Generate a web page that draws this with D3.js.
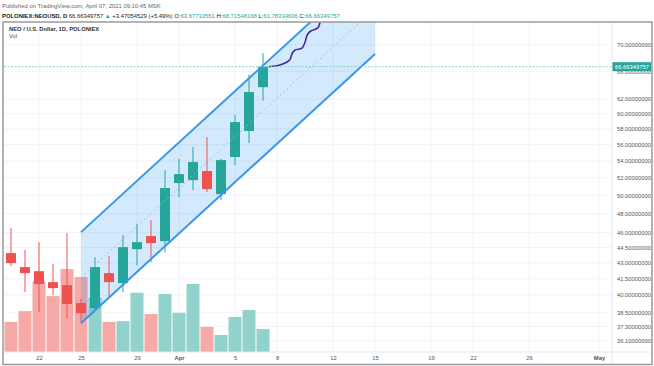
<!DOCTYPE html>
<html>
<head>
<meta charset="utf-8">
<script src="https://cdn.jsdelivr.net/npm/d3@7"></script>
<style>
  html, body { margin: 0; padding: 0; background: #fff; }
  svg { display: block; font-family: "Liberation Sans", Arial, sans-serif; }
</style>
</head>
<body>
<div id="chart"></div>
<script>
// NEO / USD daily candles (Poloniex)
const dates  = ["2021-03-20","2021-03-21","2021-03-22","2021-03-23","2021-03-24","2021-03-25","2021-03-26",
                "2021-03-27","2021-03-28","2021-03-29","2021-03-30","2021-03-31","2021-04-01","2021-04-02",
                "2021-04-03","2021-04-04","2021-04-05","2021-04-06","2021-04-07"];
const opens  = [43.94, 42.59, 42.20, 41.18, 40.91, 39.29, 38.85, 42.02, 41.09, 44.33, 45.65, 45.13, 51.39, 51.73, 52.79, 50.14, 54.47, 57.73, 63.67710551];
const highs  = [46.47, 44.24, 45.03, 42.87, 45.95, 39.70, 43.55, 43.65, 45.75, 46.90, 47.31, 52.90, 54.22, 55.70, 56.96, 54.22, 59.84, 65.50, 68.71548168];
const lows   = [42.68, 40.27, 38.51, 40.00, 37.99, 37.66, 38.68, 39.82, 40.27, 42.77, 43.06, 44.00, 49.81, 50.59, 50.37, 49.47, 53.50, 56.20, 61.78334606];
const closes = [42.97, 42.02, 41.00, 40.63, 39.21, 38.42, 42.59, 41.18, 44.53, 45.03, 44.93, 50.82, 52.43, 53.86, 50.70, 54.10, 58.90, 62.99, 66.66349757];
const volumes = [72, 98, 170, 134, 199, 180, 130, 72, 74, 142, 91, 139, 94, 163, 60, 41, 84, 101, 55];

// parallel channel drawing
const channelDates = ["2021-03-25", "2021-04-15"];
const channelUpper = [46.05, 84.06];
const channelLower = [37.57, 68.58];

// hand drawn projection path: days after Apr 7, price
const pathDays   = [0.4, 1.2, 1.9, 2.1, 2.3, 2.8, 3.0, 3.15, 3.4, 3.9, 4.1, 4.25];
const pathPrices = [66.66, 66.9, 67.7, 68.7, 69.2, 69.5, 70.4, 71.6, 72.2, 72.7, 73.7, 75.0];

const priceTicks = [36.1, 37.3, 38.5, 40, 41.5, 43, 44.5, 46, 48, 50, 52, 54, 56, 58, 60, 62, 66, 70, 74];
const dateTicks  = ["2021-03-22","2021-03-25","2021-03-29","2021-04-01","2021-04-05","2021-04-08",
                    "2021-04-12","2021-04-15","2021-04-19","2021-04-22","2021-04-26","2021-05-01"];
const lastPrice = 66.66349757;

const W = 654, H = 366;
const L = 4, R = 612, T = 22, B = 352;
const up = "#26a69a", down = "#ef5350";
const parse = d3.utcParse("%Y-%m-%d");

const candles = dates.map((d, i) => ({date: parse(d), o: opens[i], h: highs[i], l: lows[i], c: closes[i], v: volumes[i]}));

const x = d3.scaleUtc().domain([parse("2021-03-22"), parse("2021-05-01")]).range([39, 599]);
const y = d3.scaleLog().domain([36.1, 74]).range([341, 20]);
const yv = d3.scaleLinear().domain([0, 199]).range([B, B - 83]);
const day = x(parse("2021-03-23")) - x(parse("2021-03-22"));

const svg = d3.select("#chart").append("svg").attr("width", W).attr("height", H);

const defs = svg.append("defs");
defs.append("clipPath").attr("id", "plot")
  .append("rect").attr("x", L).attr("y", T).attr("width", R - L).attr("height", B - T);
defs.append("clipPath").attr("id", "axisclip")
  .append("rect").attr("x", R).attr("y", T).attr("width", W - R).attr("height", H - T);

// header
const head = svg.append("g").attr("font-size", 5.9);
head.append("text").attr("x", 2).attr("y", 8).attr("fill", "#666")
  .text("Published on TradingView.com, April 07, 2021 09:10:45 MSK");
const h2 = head.append("text").attr("x", 2).attr("y", 17.5).attr("fill", "#222").attr("font-weight", "bold");
h2.append("tspan").text("POLONIEX:NEOUSD, D ");
h2.append("tspan").attr("font-weight", "normal").text("66.66349757 ");
h2.append("tspan").attr("fill", up).attr("font-weight", "normal").text("▲");
h2.append("tspan").attr("font-weight", "normal").text(" +3.47054529 (+5.49%) ");
[["O:", opens[18]], ["H:", highs[18]], ["L:", lows[18]], ["C:", closes[18]]].forEach(([k, v]) => {
  h2.append("tspan").attr("font-weight", "normal").text(k);
  h2.append("tspan").attr("font-weight", "normal").attr("fill", up).text(d3.format(".8f")(v) + " ");
});

// grid
const grid = svg.append("g").attr("clip-path", "url(#plot)");
grid.selectAll(".hg").data(priceTicks).join("line")
  .attr("x1", L).attr("x2", R).attr("y1", d => y(d)).attr("y2", d => y(d))
  .attr("stroke", "#f0f3f8").attr("stroke-width", 1);
grid.selectAll(".vg").data(dateTicks.map(parse)).join("line")
  .attr("x1", d => x(d)).attr("x2", d => x(d)).attr("y1", T).attr("y2", B)
  .attr("stroke", "#f0f3f8").attr("stroke-width", 1);

const plot = svg.append("g").attr("clip-path", "url(#plot)");

// volume
plot.selectAll(".vol").data(candles).join("rect")
  .attr("x", d => x(d.date) - day / 2 + 0.5).attr("width", day - 1)
  .attr("y", d => yv(d.v)).attr("height", d => B - yv(d.v))
  .attr("fill", d => d.c >= d.o ? "#92d2cc" : "#f7a9a7");

// channel fill (under the candles)
const cx = channelDates.map(d => x(parse(d)));
const cu = channelUpper.map(v => y(v));
const cl = channelLower.map(v => y(v));
plot.append("path")
  .attr("d", d3.line()([[cx[0], cu[0]], [cx[1], cu[1]], [cx[1], cl[1]], [cx[0], cl[0]]]) + "Z")
  .attr("fill", "#2196f3").attr("fill-opacity", 0.2);

// candles
const cg = plot.selectAll(".candle").data(candles).join("g");
cg.append("line")
  .attr("x1", d => x(d.date)).attr("x2", d => x(d.date))
  .attr("y1", d => y(d.h)).attr("y2", d => y(d.l))
  .attr("stroke", d => d.c >= d.o ? up : down).attr("stroke-width", 1);
cg.append("rect")
  .attr("x", d => x(d.date) - 5).attr("width", 10)
  .attr("y", d => y(Math.max(d.o, d.c)))
  .attr("height", d => Math.max(1, Math.abs(y(d.o) - y(d.c))))
  .attr("fill", d => d.c >= d.o ? up : down);

// channel lines
plot.append("line").attr("x1", cx[0]).attr("x2", cx[1]).attr("y1", cu[0]).attr("y2", cu[1])
  .attr("stroke", "#3a96e8").attr("stroke-width", 2);
plot.append("line").attr("x1", cx[0]).attr("x2", cx[1]).attr("y1", cl[0]).attr("y2", cl[1])
  .attr("stroke", "#3a96e8").attr("stroke-width", 2);
plot.append("line").attr("x1", cx[0]).attr("x2", cx[1])
  .attr("y1", (cu[0] + cl[0]) / 2).attr("y2", (cu[1] + cl[1]) / 2)
  .attr("stroke", "#9ab4cf").attr("stroke-width", 1).attr("stroke-dasharray", "1.5,3");

// projection path
const last = parse(dates[dates.length - 1]);
plot.append("path")
  .datum(pathDays.map((t, i) => [x(d3.utcHour.offset(last, Math.round(t * 24))), y(pathPrices[i])]))
  .attr("d", d3.line().curve(d3.curveCatmullRom))
  .attr("fill", "none").attr("stroke", "#4a2a9a").attr("stroke-width", 1.6);

// last price line
plot.append("line").attr("x1", L).attr("x2", R).attr("y1", y(lastPrice)).attr("y2", y(lastPrice))
  .attr("stroke", "#86d0c8").attr("stroke-width", 1).attr("stroke-dasharray", "2,1.5");

// legend
svg.append("text").attr("x", 9).attr("y", 31).attr("font-size", 5.8).attr("font-weight", "bold")
  .attr("fill", "#333").text("NEO / U.S. Dollar, 1D, POLONIEX");
svg.append("text").attr("x", 9).attr("y", 38).attr("font-size", 5.8).attr("fill", "#555").text("Vol");

// price axis
const ya = svg.append("g").attr("clip-path", "url(#axisclip)")
  .append("g").attr("transform", `translate(${R},0)`)
  .call(d3.axisRight(y).tickValues(priceTicks).tickFormat(d3.format(".8f")).tickSize(0).tickPadding(5));
ya.select(".domain").remove();
ya.selectAll("text").attr("font-size", 5.8).attr("fill", "#555").attr("font-family", "Liberation Sans, Arial, sans-serif");

// last price label
svg.append("rect").attr("x", R).attr("y", y(lastPrice) - 4.5).attr("width", 39).attr("height", 9).attr("fill", up);
svg.append("text").attr("x", R + 3).attr("y", y(lastPrice)).attr("dy", "0.35em")
  .attr("font-size", 5.8).attr("fill", "#fff").text(d3.format(".8f")(lastPrice));

// time axis
const xa = svg.append("g").attr("transform", `translate(0,${B})`)
  .call(d3.axisBottom(x).tickValues(dateTicks.map(parse)).tickSize(0).tickPadding(4)
    .tickFormat(d => d.getUTCDate() === 1 ? d3.utcFormat("%b")(d) : d3.utcFormat("%-d")(d)));
xa.select(".domain").remove();
xa.selectAll("text").attr("font-size", 5.8).attr("fill", "#555").attr("font-family", "Liberation Sans, Arial, sans-serif")
  .attr("font-weight", d => d.getUTCDate() === 1 ? "bold" : "normal");

// separators and frame
svg.append("line").attr("x1", R).attr("x2", R).attr("y1", T).attr("y2", H - 1).attr("stroke", "#e6e8ee");
svg.append("line").attr("x1", L).attr("x2", W - 2).attr("y1", B).attr("y2", B).attr("stroke", "#e6e8ee");
svg.append("rect").attr("x", 3).attr("y", T).attr("width", W - 5).attr("height", H - T - 1.5)
  .attr("fill", "none").attr("stroke", "#9a9a9a").attr("stroke-width", 1.5);
</script>
</body>
</html>
